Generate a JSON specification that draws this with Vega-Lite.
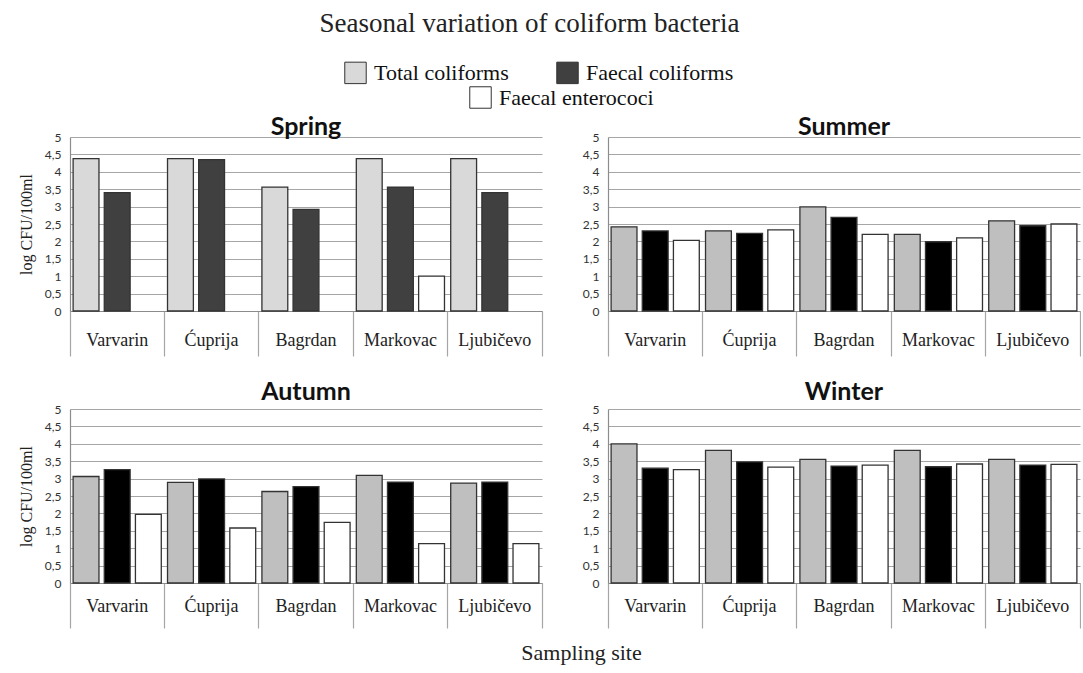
{
  "$schema": "https://vega.github.io/schema/vega-lite/v6.json",
  "background": "white",
  "padding": {"left": 18, "top": 10, "right": 0, "bottom": 5},
  "title": {"text": "Seasonal variation of coliform bacteria", "font": "Liberation Serif", "fontSize": 27, "fontWeight": "normal", "color": "#222", "anchor": "middle", "offset": 23, "dx": -20},
  "data": {"values": [
    {"season": "Spring", "site": "Varvarin", "group": "Total coliforms", "value": 4.38},
    {"season": "Spring", "site": "Varvarin", "group": "Faecal coliforms", "value": 3.40},
    {"season": "Spring", "site": "Ćuprija", "group": "Total coliforms", "value": 4.38},
    {"season": "Spring", "site": "Ćuprija", "group": "Faecal coliforms", "value": 4.35},
    {"season": "Spring", "site": "Bagrdan", "group": "Total coliforms", "value": 3.56},
    {"season": "Spring", "site": "Bagrdan", "group": "Faecal coliforms", "value": 2.92},
    {"season": "Spring", "site": "Markovac", "group": "Total coliforms", "value": 4.38},
    {"season": "Spring", "site": "Markovac", "group": "Faecal coliforms", "value": 3.56},
    {"season": "Spring", "site": "Markovac", "group": "Faecal enterococi", "value": 1.0},
    {"season": "Spring", "site": "Ljubičevo", "group": "Total coliforms", "value": 4.38},
    {"season": "Spring", "site": "Ljubičevo", "group": "Faecal coliforms", "value": 3.40},
    {"season": "Summer", "site": "Varvarin", "group": "Total coliforms", "value": 2.42},
    {"season": "Summer", "site": "Varvarin", "group": "Faecal coliforms", "value": 2.30},
    {"season": "Summer", "site": "Varvarin", "group": "Faecal enterococi", "value": 2.03},
    {"season": "Summer", "site": "Ćuprija", "group": "Total coliforms", "value": 2.30},
    {"season": "Summer", "site": "Ćuprija", "group": "Faecal coliforms", "value": 2.23},
    {"season": "Summer", "site": "Ćuprija", "group": "Faecal enterococi", "value": 2.33},
    {"season": "Summer", "site": "Bagrdan", "group": "Total coliforms", "value": 2.99},
    {"season": "Summer", "site": "Bagrdan", "group": "Faecal coliforms", "value": 2.69},
    {"season": "Summer", "site": "Bagrdan", "group": "Faecal enterococi", "value": 2.20},
    {"season": "Summer", "site": "Markovac", "group": "Total coliforms", "value": 2.20},
    {"season": "Summer", "site": "Markovac", "group": "Faecal coliforms", "value": 1.99},
    {"season": "Summer", "site": "Markovac", "group": "Faecal enterococi", "value": 2.10},
    {"season": "Summer", "site": "Ljubičevo", "group": "Total coliforms", "value": 2.59},
    {"season": "Summer", "site": "Ljubičevo", "group": "Faecal coliforms", "value": 2.45},
    {"season": "Summer", "site": "Ljubičevo", "group": "Faecal enterococi", "value": 2.50},
    {"season": "Autumn", "site": "Varvarin", "group": "Total coliforms", "value": 3.06},
    {"season": "Autumn", "site": "Varvarin", "group": "Faecal coliforms", "value": 3.26},
    {"season": "Autumn", "site": "Varvarin", "group": "Faecal enterococi", "value": 1.97},
    {"season": "Autumn", "site": "Ćuprija", "group": "Total coliforms", "value": 2.89},
    {"season": "Autumn", "site": "Ćuprija", "group": "Faecal coliforms", "value": 2.99},
    {"season": "Autumn", "site": "Ćuprija", "group": "Faecal enterococi", "value": 1.58},
    {"season": "Autumn", "site": "Bagrdan", "group": "Total coliforms", "value": 2.63},
    {"season": "Autumn", "site": "Bagrdan", "group": "Faecal coliforms", "value": 2.77},
    {"season": "Autumn", "site": "Bagrdan", "group": "Faecal enterococi", "value": 1.74},
    {"season": "Autumn", "site": "Markovac", "group": "Total coliforms", "value": 3.09},
    {"season": "Autumn", "site": "Markovac", "group": "Faecal coliforms", "value": 2.90},
    {"season": "Autumn", "site": "Markovac", "group": "Faecal enterococi", "value": 1.13},
    {"season": "Autumn", "site": "Ljubičevo", "group": "Total coliforms", "value": 2.87},
    {"season": "Autumn", "site": "Ljubičevo", "group": "Faecal coliforms", "value": 2.90},
    {"season": "Autumn", "site": "Ljubičevo", "group": "Faecal enterococi", "value": 1.13},
    {"season": "Winter", "site": "Varvarin", "group": "Total coliforms", "value": 4.00},
    {"season": "Winter", "site": "Varvarin", "group": "Faecal coliforms", "value": 3.30},
    {"season": "Winter", "site": "Varvarin", "group": "Faecal enterococi", "value": 3.26},
    {"season": "Winter", "site": "Ćuprija", "group": "Total coliforms", "value": 3.81},
    {"season": "Winter", "site": "Ćuprija", "group": "Faecal coliforms", "value": 3.48},
    {"season": "Winter", "site": "Ćuprija", "group": "Faecal enterococi", "value": 3.33},
    {"season": "Winter", "site": "Bagrdan", "group": "Total coliforms", "value": 3.55},
    {"season": "Winter", "site": "Bagrdan", "group": "Faecal coliforms", "value": 3.36},
    {"season": "Winter", "site": "Bagrdan", "group": "Faecal enterococi", "value": 3.39},
    {"season": "Winter", "site": "Markovac", "group": "Total coliforms", "value": 3.81},
    {"season": "Winter", "site": "Markovac", "group": "Faecal coliforms", "value": 3.34},
    {"season": "Winter", "site": "Markovac", "group": "Faecal enterococi", "value": 3.42},
    {"season": "Winter", "site": "Ljubičevo", "group": "Total coliforms", "value": 3.55},
    {"season": "Winter", "site": "Ljubičevo", "group": "Faecal coliforms", "value": 3.39},
    {"season": "Winter", "site": "Ljubičevo", "group": "Faecal enterococi", "value": 3.41}
  ]},
  "bounds": "flush",
  "columns": 2,
  "spacing": {"row": 98, "column": 66},
  "resolve": {"scale": {"color": "independent"}, "legend": {"color": "independent"}},
  "concat": [
    {
      "width": 472, "height": 174,
      "title": {"text": "Spring", "dy": 82},
      "transform": [{"filter": "datum.season == 'Spring'"}],
      "mark": {"type": "bar", "stroke": "#333", "strokeWidth": 1.3},
      "encoding": {
        "x": {"field": "site", "type": "nominal", "sort": ["Varvarin", "Ćuprija", "Bagrdan", "Markovac", "Ljubičevo"], "scale": {"paddingInner": 0, "paddingOuter": 0}, "axis": {"title": null}},
        "xOffset": {"field": "group", "type": "nominal", "sort": ["Total coliforms", "Faecal coliforms", "Faecal enterococi"], "scale": {"domain": ["Total coliforms", "Faecal coliforms", "Faecal enterococi"], "paddingInner": 0.17, "paddingOuter": 0.1}},
        "y": {"field": "value", "type": "quantitative", "scale": {"domain": [0, 5], "nice": false}, "axis": {"title": "log CFU/100ml", "values": [0, 0.5, 1, 1.5, 2, 2.5, 3, 3.5, 4, 4.5, 5]}},
        "color": {"field": "group", "type": "nominal", "scale": {"domain": ["Total coliforms", "Faecal coliforms", "Faecal enterococi"], "range": ["#d9d9d9", "#404040", "#ffffff"]},
          "legend": {"title": null, "orient": "none", "legendX": 274, "legendY": -76, "direction": "horizontal", "values": ["Total coliforms", "Faecal coliforms"], "columnPadding": 45}}
      }
    },
    {
      "width": 472, "height": 174,
      "title": {"text": "Summer", "dy": 57},
      "transform": [{"filter": "datum.season == 'Summer'"}],
      "mark": {"type": "bar", "stroke": "#333", "strokeWidth": 1.3},
      "encoding": {
        "x": {"field": "site", "type": "nominal", "sort": ["Varvarin", "Ćuprija", "Bagrdan", "Markovac", "Ljubičevo"], "scale": {"paddingInner": 0, "paddingOuter": 0}, "axis": {"title": null}},
        "xOffset": {"field": "group", "type": "nominal", "sort": ["Total coliforms", "Faecal coliforms", "Faecal enterococi"], "scale": {"domain": ["Total coliforms", "Faecal coliforms", "Faecal enterococi"], "paddingInner": 0.17, "paddingOuter": 0.1}},
        "y": {"field": "value", "type": "quantitative", "scale": {"domain": [0, 5], "nice": false}, "axis": {"title": null, "values": [0, 0.5, 1, 1.5, 2, 2.5, 3, 3.5, 4, 4.5, 5]}},
        "color": {"field": "group", "type": "nominal", "scale": {"domain": ["Total coliforms", "Faecal coliforms", "Faecal enterococi"], "range": ["#bfbfbf", "#000000", "#ffffff"]},
          "legend": {"title": null, "orient": "none", "legendX": -139, "legendY": -51, "values": ["Faecal enterococi"]}}
      }
    },
    {
      "width": 472, "height": 174,
      "title": {"text": "Autumn", "dy": 5},
      "transform": [{"filter": "datum.season == 'Autumn'"}],
      "mark": {"type": "bar", "stroke": "#333", "strokeWidth": 1.3},
      "encoding": {
        "x": {"field": "site", "type": "nominal", "sort": ["Varvarin", "Ćuprija", "Bagrdan", "Markovac", "Ljubičevo"], "scale": {"paddingInner": 0, "paddingOuter": 0}, "axis": {"title": "Sampling site", "titleX": 511, "titleY": 69, "titleBaseline": "middle", "titleAnchor": "middle", "titleAlign": "center", "labelPadding": -22}},
        "xOffset": {"field": "group", "type": "nominal", "sort": ["Total coliforms", "Faecal coliforms", "Faecal enterococi"], "scale": {"domain": ["Total coliforms", "Faecal coliforms", "Faecal enterococi"], "paddingInner": 0.17, "paddingOuter": 0.1}},
        "y": {"field": "value", "type": "quantitative", "scale": {"domain": [0, 5], "nice": false}, "axis": {"title": "log CFU/100ml", "values": [0, 0.5, 1, 1.5, 2, 2.5, 3, 3.5, 4, 4.5, 5]}},
        "color": {"field": "group", "type": "nominal", "scale": {"domain": ["Total coliforms", "Faecal coliforms", "Faecal enterococi"], "range": ["#bfbfbf", "#000000", "#ffffff"]}, "legend": null}
      }
    },
    {
      "width": 472, "height": 174,
      "title": {"text": "Winter", "dy": 5},
      "transform": [{"filter": "datum.season == 'Winter'"}],
      "mark": {"type": "bar", "stroke": "#333", "strokeWidth": 1.3},
      "encoding": {
        "x": {"field": "site", "type": "nominal", "sort": ["Varvarin", "Ćuprija", "Bagrdan", "Markovac", "Ljubičevo"], "scale": {"paddingInner": 0, "paddingOuter": 0}, "axis": {"title": null, "labelPadding": -22}},
        "xOffset": {"field": "group", "type": "nominal", "sort": ["Total coliforms", "Faecal coliforms", "Faecal enterococi"], "scale": {"domain": ["Total coliforms", "Faecal coliforms", "Faecal enterococi"], "paddingInner": 0.17, "paddingOuter": 0.1}},
        "y": {"field": "value", "type": "quantitative", "scale": {"domain": [0, 5], "nice": false}, "axis": {"title": null, "values": [0, 0.5, 1, 1.5, 2, 2.5, 3, 3.5, 4, 4.5, 5]}},
        "color": {"field": "group", "type": "nominal", "scale": {"domain": ["Total coliforms", "Faecal coliforms", "Faecal enterococi"], "range": ["#bfbfbf", "#000000", "#ffffff"]}, "legend": null}
      }
    }
  ],
  "config": {
    "view": {"stroke": null},
    "title": {"font": "Lato", "fontSize": 25, "fontWeight": "bold", "color": "#111", "offset": 3},
    "axisX": {
      "bandPosition": 1, "tickExtra": true, "tickSize": 45, "tickColor": "#a6a6a6", "tickWidth": 1.2,
      "domainColor": "#8c8c8c", "domainWidth": 1.2,
      "labelFont": "Liberation Serif", "labelFontSize": 18, "labelColor": "#222", "labelAngle": 0, "labelAlign": "center",
      "labelOffset": 0, "labelPadding": -16, "labelBaseline": "middle",
      "titleFont": "Liberation Serif", "titleFontSize": 22, "titleFontWeight": "normal", "titleColor": "#222",
      "grid": false
    },
    "axisY": {
      "labelExpr": "replace(toString(datum.value), '.', ',')",
      "labelFont": "Lato", "labelFontSize": 12, "labelColor": "#333", "labelPadding": 9,
      "ticks": false, "domainColor": "#8c8c8c", "domainWidth": 1.2,
      "gridColor": "#a6a6a6", "gridWidth": 1.2,
      "titleFont": "Liberation Serif", "titleFontSize": 16, "titleFontWeight": "normal", "titleColor": "#222", "titlePadding": 10
    },
    "legend": {
      "labelFont": "Liberation Serif", "labelFontSize": 22, "labelColor": "#111", "labelOffset": 7,
      "symbolType": "square", "symbolSize": 460, "symbolStrokeColor": "#333", "symbolStrokeWidth": 1, "symbolOpacity": 1
    }
  }
}
